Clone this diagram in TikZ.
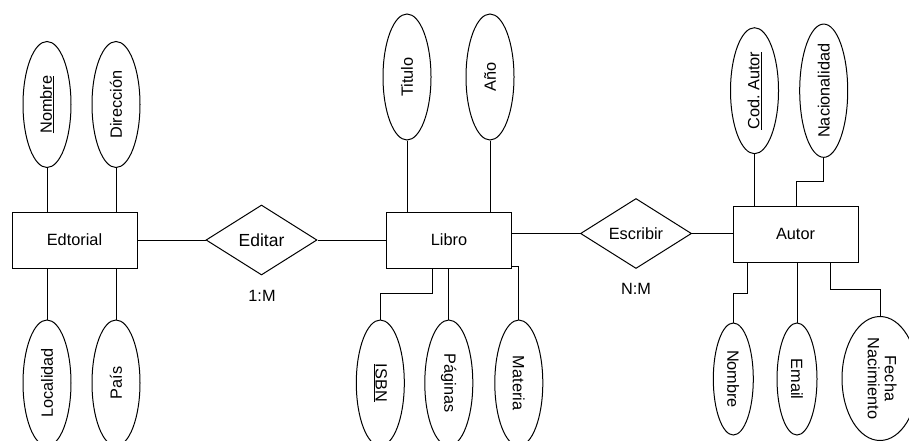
\documentclass[tikz,border=0pt]{standalone}
\usepackage{fontspec}
\setmainfont{Liberation Sans}
\usepackage{graphicx}
\usetikzlibrary{shapes.geometric}
\frenchspacing
\tikzset{
  ent/.style={draw, rectangle, minimum width=125pt, minimum height=56pt, inner sep=0pt, font=\fontsize{16.3}{18}\selectfont},
  rel/.style={draw, diamond, aspect=1.6, minimum width=111pt, minimum height=70pt, inner sep=0pt, font=\fontsize{16.3}{18}\selectfont},
  attr/.style={draw, ellipse, minimum width=48pt, minimum height=126pt, inner sep=0pt, font=\fontsize{16.3}{18}\selectfont},
  sattr/.style={draw, ellipse, minimum width=40pt, minimum height=112pt, inner sep=0pt, font=\fontsize{16.3}{18}\selectfont},
  lbl/.style={inner sep=0pt, font=\fontsize{16.3}{18}\selectfont},
  conn/.style={draw, line width=1pt},
}
\begin{document}
\begin{tikzpicture}[x=1pt, y=-1pt, line width=1pt, line join=miter]
\useasboundingbox (0,0) rectangle (909,441);
\clip (0,0) rectangle (909,441);
\fill[white] (0,0) rectangle (909,441);
% entities
\node[ent] (edt) at (74.5,240) {Edtorial};
\node[ent] (libro) at (449,240) {Libro};
\node[ent] (autor) at (795.5,234) {Autor};
% relations
\node[rel, font=\fontsize{17.5}{20}\selectfont] (editar) at (261.5,240) {Editar};
\node[rel] (escribir) at (636,233.5) {Escribir};
\node[lbl] (c1) at (262,296) {1:M};
\node[lbl] (c2) at (636,289) {N:M};
% Editorial attributes
\node[attr] (enombre) at (47,104.5) {\rotatebox{90}{\underline{Nombre}}};
\node[attr] (edir) at (116,104.5) {\rotatebox{90}{Dirección}};
\node[attr] (eloc) at (47,383) {\rotatebox{90}{Localidad}};
\node[attr] (epais) at (116,383) {\rotatebox{90}{País}};
% Libro attributes
\node[attr] (ltit) at (407,77) {\rotatebox{90}{Titulo}};
\node[attr] (lano) at (490,77) {\rotatebox{90}{Año}};
\node[attr] (lisbn) at (380.3,383) {\rotatebox{-90}{\underline{ISBN}}};
\node[attr] (lpag) at (448.8,383) {\rotatebox{-90}{Páginas}};
\node[attr] (lmat) at (518.8,383) {\rotatebox{-90}{Materia}};
% Autor attributes
\node[attr] (acod) at (754.5,90.7) {\rotatebox{90}{\underline{Cod. Autor}}};
\node[attr] (anac) at (823.7,90.7) {\rotatebox{90}{Nacionalidad}};
\node[sattr] (anom) at (733.3,379) {\rotatebox{-90}{Nombre}};
\node[sattr] (aemail) at (797,379) {\rotatebox{-90}{Email}};
\node[attr, minimum width=76pt, minimum height=124pt] (afecha) at (880,378.5)
  {\rotatebox{-90}{\begin{tabular}{@{}c@{}}Fecha\\[-1pt]Nacimiento\end{tabular}}};
% bend coordinates
\coordinate (isbnK) at (432.3,293.3);
\coordinate (nacK) at (796,181.7);
\coordinate (nomK) at (747.3,293.3);
\coordinate (fechK) at (830.7,289.3);
% connectors
\draw[conn] (edt.east) -- (editar.west);
\draw[conn] (editar.east) -- (libro.west);
\draw[conn] (escribir.west) -- (escribir.west -| libro.east);
\draw[conn] (escribir.east) -- (escribir.east -| autor.west);
\draw[conn] (enombre.south) -- (enombre.south |- edt.north);
\draw[conn] (edir.south) -- (edir.south |- edt.north);
\draw[conn] (eloc.north) -- (eloc.north |- edt.south);
\draw[conn] (epais.north) -- (epais.north |- edt.south);
\draw[conn] (ltit.south) -- (ltit.south |- libro.north);
\draw[conn] (lano.south) -- (lano.south |- libro.north);
\draw[conn] (isbnK |- libro.south) -- (isbnK) -| (lisbn.north);
\draw[conn] (lpag.north) -- (lpag.north |- libro.south);
\draw[conn] ([yshift=2.3pt]libro.south east) -| (lmat.north);
\draw[conn] (acod.south) -- (acod.south |- autor.north);
\draw[conn] (anac.south) |- (nacK) -- (nacK |- autor.north);
\draw[conn] (nomK |- autor.south) -- (nomK) -| (anom.north);
\draw[conn] (aemail.north) -- (aemail.north |- autor.south);
\draw[conn] (fechK |- autor.south) -- (fechK) -| (afecha.north);
\end{tikzpicture}
\end{document}
